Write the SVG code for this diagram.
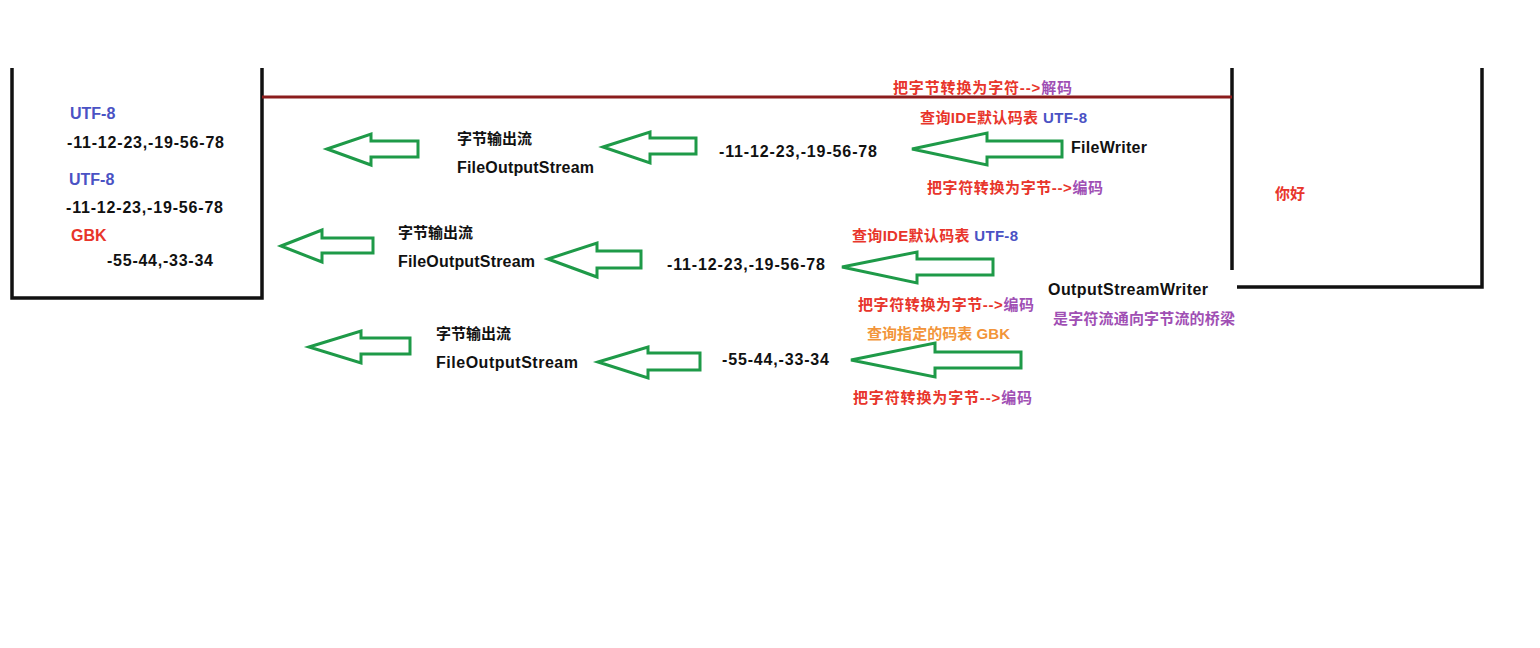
<svg xmlns="http://www.w3.org/2000/svg" width="1540" height="648" viewBox="0 0 1540 648">
<style>
text{font-family:"Liberation Sans","Noto Sans CJK SC",sans-serif;font-weight:bold;font-size:15px;fill:#111}
.lat{font-size:16px}
.red{fill:#e8352b}
.pur{fill:#a04fb4}
.blu{fill:#4a52c4}
.org{fill:#f2953a}
.arrow{fill:none;stroke:#1e9a48;stroke-width:3;stroke-linejoin:miter}
.wall{fill:none;stroke:#111;stroke-width:3.5}
</style>
<rect width="1540" height="648" fill="#fff"/>

<g id="left-box">
<path class="wall" d="M12 68V298H262V68"/>
<text class="lat blu" x="70" y="119">UTF-8</text>
<text class="lat" x="67" y="148" textLength="157">-11-12-23,-19-56-78</text>
<text class="lat blu" x="69" y="185">UTF-8</text>
<text class="lat" x="66" y="213" textLength="157">-11-12-23,-19-56-78</text>
<text class="lat red" x="71" y="241">GBK</text>
<text class="lat" x="107" y="266" textLength="106">-55-44,-33-34</text>
</g>

<g id="right-box">
<path class="wall" d="M1232 68V270"/>
<path class="wall" d="M1237 287H1482V68"/>
<text class="red" x="1275" y="199">你好</text>
</g>

<g id="decode-line">
<line x1="262" y1="97" x2="1232" y2="97" stroke="#8b1c1c" stroke-width="3"/>
<text class="red" x="893" y="93" textLength="179">把字节转换为字符--&gt;<tspan class="pur">解码</tspan></text>
</g>

<g id="row1">
<g id="fileoutputstream-1">
<text x="457" y="144">字节输出流</text>
<text class="lat" x="457" y="173" textLength="137">FileOutputStream</text>
</g>
<g id="bytes-1"><text class="lat" x="719" y="157" textLength="158">-11-12-23,-19-56-78</text></g>
<g id="filewriter">
<text class="red" x="920" y="123" textLength="167">查询IDE默认码表 <tspan class="blu">UTF-8</tspan></text>
<text class="lat" x="1071" y="153" textLength="76">FileWriter</text>
<text class="red" x="927" y="193" textLength="176">把字符转换为字节--&gt;<tspan class="pur">编码</tspan></text>
</g>
</g>

<g id="row2">
<g id="fileoutputstream-2">
<text x="398" y="238">字节输出流</text>
<text class="lat" x="398" y="267" textLength="137">FileOutputStream</text>
</g>
<g id="bytes-2"><text class="lat" x="667" y="270" textLength="158">-11-12-23,-19-56-78</text></g>
<g id="osw-utf8">
<text class="red" x="852" y="241" textLength="166">查询IDE默认码表 <tspan class="blu">UTF-8</tspan></text>
<text class="red" x="858" y="310" textLength="176">把字符转换为字节--&gt;<tspan class="pur">编码</tspan></text>
</g>
<g id="outputstreamwriter">
<text class="lat" x="1048" y="295" textLength="160">OutputStreamWriter</text>
<text class="pur" x="1053" y="324" textLength="182">是字符流通向字节流的桥梁</text>
</g>
</g>

<g id="row3">
<g id="fileoutputstream-3">
<text x="436" y="339">字节输出流</text>
<text class="lat" x="436" y="368" textLength="142">FileOutputStream</text>
</g>
<g id="bytes-3"><text class="lat" x="722" y="365" textLength="107">-55-44,-33-34</text></g>
<g id="osw-gbk">
<text class="org" x="867" y="339" textLength="143">查询指定的码表 GBK</text>
<text class="red" x="853" y="403" textLength="179">把字符转换为字节--&gt;<tspan class="pur">编码</tspan></text>
</g>
</g>

<g id="connectors">
<polygon class="arrow" points="327,149 371,134 371,141 418,141 418,157 371,157 371,165"/>
<polygon class="arrow" points="603,147 650,132 650,138 696,138 696,154 650,154 650,163"/>
<polygon class="arrow" points="912,149 987,133 987,141 1062,141 1062,157 987,157 987,165"/>
<polygon class="arrow" points="281,246 322,230 322,238 373,238 373,253 322,253 322,262"/>
<polygon class="arrow" points="548,259 597,243 597,251 641,251 641,268 597,268 597,277"/>
<polygon class="arrow" points="842,267 917,252 917,259 993,259 993,275 917,275 917,283"/>
<polygon class="arrow" points="309,347 361,331 361,338 410,338 410,354 361,354 361,363"/>
<polygon class="arrow" points="598,362 648,347 648,353 700,353 700,370 648,370 648,378"/>
<polygon class="arrow" points="851,360 935,343 935,352 1021,352 1021,368 935,368 935,377"/>
</g>
</svg>
